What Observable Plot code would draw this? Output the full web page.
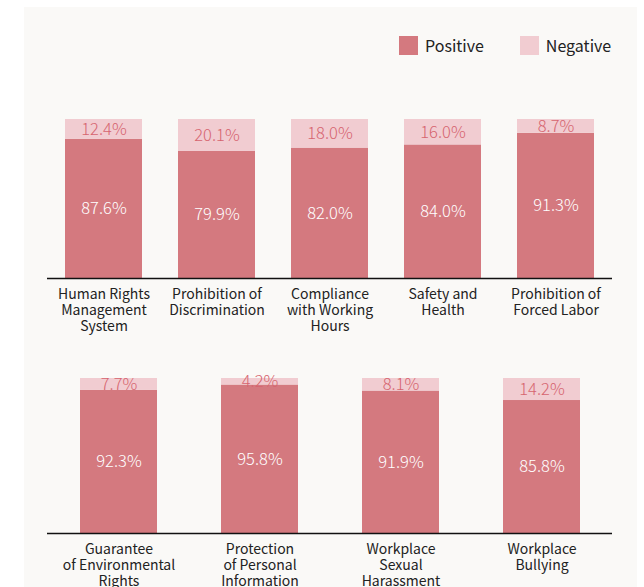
<!DOCTYPE html>
<html>
<head>
<meta charset="utf-8">
<script src="https://cdn.jsdelivr.net/npm/d3@7"></script>
<script src="https://cdn.jsdelivr.net/npm/@observablehq/plot@0.6"></script>
<style>
  html, body { margin: 0; padding: 0; background: #ffffff; width: 644px; height: 587px; overflow: hidden; }
  body { font-family: "Noto Sans CJK KR", "Noto Sans", sans-serif; position: relative; }
  #panel { position: absolute; left: 24px; top: 7px; width: 613px; height: 580px; background: #faf9f7; }
  #legend { position: absolute; top: 33px; left: 399px; display: flex; align-items: center; font-size: 16px; color: #222; }
  .sw { width: 19px; height: 19px; display: inline-block; margin-right: 7px; }
  .item { display: flex; align-items: center; }
  #row1 { position: absolute; left: 0; top: 100px; }
  #row2 { position: absolute; left: 0; top: 350px; }
</style>
</head>
<body>
<div id="panel"></div>
<div id="legend"></div>
<div id="row1"></div>
<div id="row2"></div>
<script>
// ---- data ----
const series = ["Positive", "Negative"];
const seriesColors = ["#d4797f", "#f1ccd1"];

const row1Categories = ["Human Rights Management System", "Prohibition of Discrimination", "Compliance with Working Hours", "Safety and Health", "Prohibition of Forced Labor"];
const row1TickLabels = ["Human Rights\nManagement\nSystem", "Prohibition of\nDiscrimination", "Compliance\nwith Working\nHours", "Safety and\nHealth", "Prohibition of\nForced Labor"];
const row1Positive = [87.6, 79.9, 82.0, 84.0, 91.3];
const row1Negative = [12.4, 20.1, 18.0, 16.0, 8.7];

const row2Categories = ["Guarantee of Environmental Rights", "Protection of Personal Information", "Workplace Sexual Harassment", "Workplace Bullying"];
const row2TickLabels = ["Guarantee\nof Environmental\nRights", "Protection\nof Personal\nInformation", "Workplace\nSexual\nHarassment", "Workplace\nBullying"];
const row2Positive = [92.3, 95.8, 91.9, 85.8];
const row2Negative = [7.7, 4.2, 8.1, 14.2];

// ---- legend ----
const legend = document.getElementById("legend");
series.forEach((s, i) => {
  const it = document.createElement("div");
  it.className = "item";
  it.style.marginRight = i === 0 ? "36px" : "0";
  it.innerHTML = `<span class="sw" style="background:${seriesColors[i]}"></span><span>${s}</span>`;
  legend.appendChild(it);
});

function tidy(cats, pos, neg) {
  const rows = [];
  cats.forEach((c, i) => {
    rows.push({cat: c, type: "Positive", value: pos[i]});
    rows.push({cat: c, type: "Negative", value: neg[i]});
  });
  return rows;
}

function makeChart(cats, ticks, pos, neg, opts) {
  const data = tidy(cats, pos, neg);
  const tickMap = new Map(cats.map((c, i) => [c, ticks[i]]));
  return Plot.plot({
    width: 644,
    height: opts.height,
    marginLeft: 47,
    marginRight: 32,
    marginTop: opts.marginTop,
    marginBottom: opts.marginBottom,
    style: {background: "transparent", fontFamily: "'Noto Sans CJK KR', 'Noto Sans', sans-serif", overflow: "visible"},
    x: {domain: cats, paddingInner: opts.pad, paddingOuter: opts.pad / 2, label: null},
    y: {domain: [0, 100], axis: null},
    color: {domain: series, range: seriesColors},
    marks: [
      Plot.barY(data, Plot.stackY({x: "cat", y: "value", fill: "type"})),
      Plot.text(data, Plot.stackY({x: "cat", y: "value",
        text: d => d.type === "Positive" ? d.value.toFixed(1) + "%" : "",
        fill: "white", fontSize: 16.5, fontWeight: 300})),
      Plot.text(data, Plot.stackY({x: "cat", y: "value",
        text: d => d.type === "Negative" ? d.value.toFixed(1) + "%" : "",
        fill: "#d6646f", fontSize: 16.5, fontWeight: 300})),
      Plot.ruleY([0], {stroke: "#111", strokeWidth: 1.3}),
      Plot.axisX({tickSize: 0, tickPadding: 9, fontSize: 14, lineHeight: 1.15, fill: "#222",
        tickFormat: c => tickMap.get(c), label: null})
    ]
  });
}

document.getElementById("row1").appendChild(
  makeChart(row1Categories, row1TickLabels, row1Positive, row1Negative,
    {height: 250, marginTop: 19, marginBottom: 72, pad: 0.32}));
document.getElementById("row2").appendChild(
  makeChart(row2Categories, row2TickLabels, row2Positive, row2Negative,
    {height: 250, marginTop: 28, marginBottom: 67, pad: 0.455}));
</script>
</body>
</html>
